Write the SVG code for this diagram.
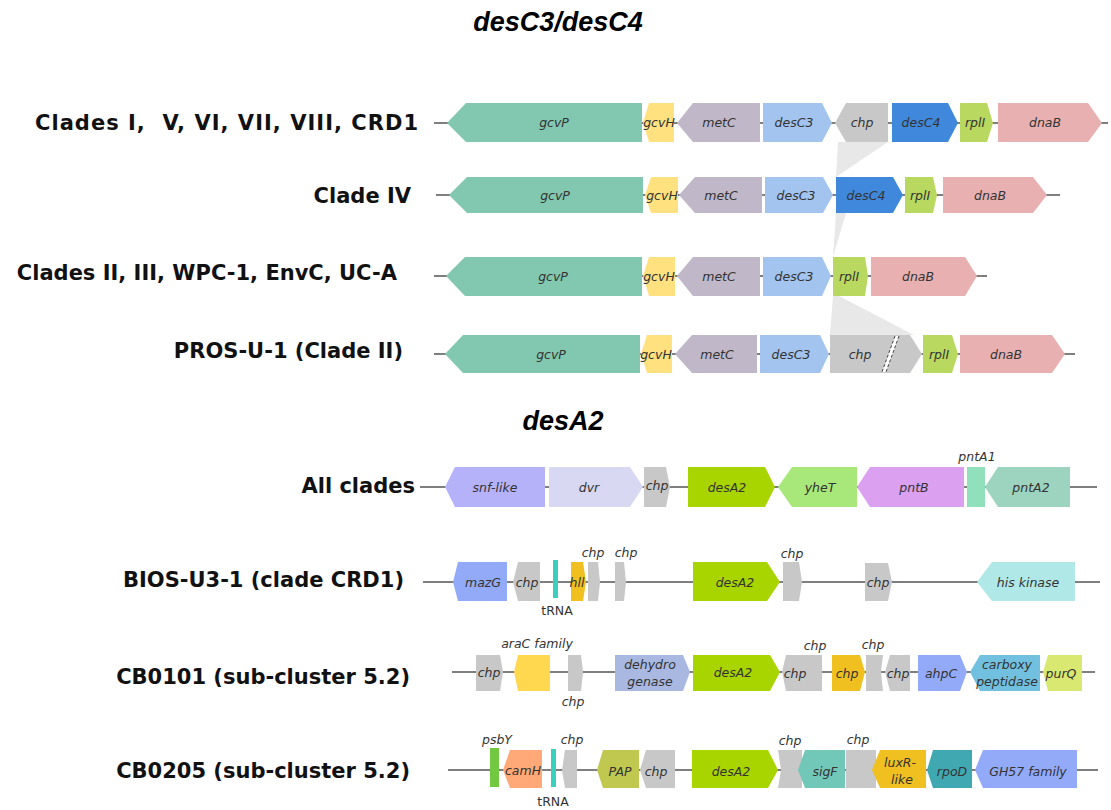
<svg xmlns="http://www.w3.org/2000/svg" width="1111" height="810" viewBox="0 0 1111 810">
<style>
.bg{fill:#fff}
.bb{stroke:#555;stroke-width:1.5;fill:none}
.gl{font-family:"DejaVu Sans",sans-serif;font-style:italic;font-size:12.5px;fill:#333;text-anchor:middle;dominant-baseline:central}
.up{font-style:normal}
.rl{font-family:"DejaVu Sans",sans-serif;font-weight:bold;font-size:21px;fill:#111;text-anchor:end;dominant-baseline:central}
.tt{font-family:"Liberation Sans",Arial,sans-serif;font-weight:bold;font-style:italic;font-size:27px;fill:#000;text-anchor:middle}
.fan{fill:#e8e8e8}
</style>
<rect class="bg" x="0" y="0" width="1111" height="810"/>
<text class="tt" x="558" y="31">desC3/desC4</text>
<text class="tt" x="563" y="430">desA2</text>

<g id="labels">
<text class="rl" x="418" y="123" xml:space="preserve" textLength="383">Clades I,  V, VI, VII, VIII, CRD1</text>
<text class="rl" x="411" y="196">Clade IV</text>
<text class="rl" x="397" y="273">Clades II, III, WPC-1, EnvC, UC-A</text>
<text class="rl" x="403" y="351">PROS-U-1 (Clade II)</text>
<text class="rl" x="415" y="486">All clades</text>
<text class="rl" x="404" y="580">BIOS-U3-1 (clade CRD1)</text>
<text class="rl" x="410" y="677">CB0101 (sub-cluster 5.2)</text>
<text class="rl" x="410" y="771">CB0205 (sub-cluster 5.2)</text>
</g>

<g id="connectors">
<polygon class="fan" points="838,142 888,142 836,177"/>
<polygon class="fan" points="836,213 846,213 833,257"/>
<polygon class="fan" points="833,296 839,296 914,335 830,335"/>
<line class="bb" x1="434" y1="123" x2="1108" y2="123"/>
<line class="bb" x1="436" y1="195" x2="1060" y2="195"/>
<line class="bb" x1="434" y1="276" x2="987" y2="276"/>
<line class="bb" x1="434" y1="354" x2="1075" y2="354"/>
<line class="bb" x1="420" y1="487" x2="1097" y2="487"/>
<line class="bb" x1="423" y1="582" x2="1100" y2="582"/>
<line class="bb" x1="452" y1="672" x2="1095" y2="672"/>
<line class="bb" x1="448" y1="770" x2="1098" y2="770"/>
</g>

<!-- Row 1 -->
<g id="r1-gcvP"><polygon fill="#82c8b0" points="447,123 466,103 642,103 642,142 466,142"/><text class="gl" x="554" y="122">gcvP</text></g>
<g id="r1-gcvH"><polygon fill="#ffe180" points="649,103 674,103 674,142 649,142 643,123"/><text class="gl" x="659" y="122">gcvH</text></g>
<g id="r1-metC"><polygon fill="#c0b8c8" points="677,123 693,103 760,103 760,142 693,142"/><text class="gl" x="719" y="122">metC</text></g>
<g id="r1-desC3"><polygon fill="#a2c4ee" points="763,103 822,103 832,123 822,142 763,142"/><text class="gl" x="794" y="122">desC3</text></g>
<g id="r1-chp"><polygon fill="#c8c8c8" points="835,123 846,103 888,103 888,142 846,142"/><text class="gl" x="862" y="122">chp</text></g>
<g id="r1-desC4"><polygon fill="#4088dc" points="892,103 948,103 958,123 948,142 892,142"/><text class="gl" x="921" y="122">desC4</text></g>
<g id="r1-rplI"><polygon fill="#b8d860" points="960,103 987,103 993,123 987,142 960,142"/><text class="gl" x="975" y="122">rplI</text></g>
<g id="r1-dnaB"><polygon fill="#e8b0b0" points="998,103 1088,103 1102,123 1088,142 998,142"/><text class="gl" x="1045" y="122">dnaB</text></g>

<!-- Row 2 -->
<g id="r2-gcvP"><polygon fill="#82c8b0" points="449,195 467,177 643,177 643,213 467,213"/><text class="gl" x="555" y="195">gcvP</text></g>
<g id="r2-gcvH"><polygon fill="#ffe180" points="651,177 678,177 678,213 651,213 645,195"/><text class="gl" x="662" y="195">gcvH</text></g>
<g id="r2-metC"><polygon fill="#c0b8c8" points="679,195 695,177 762,177 762,213 695,213"/><text class="gl" x="721" y="195">metC</text></g>
<g id="r2-desC3"><polygon fill="#a2c4ee" points="765,177 823,177 833,195 823,213 765,213"/><text class="gl" x="796" y="195">desC3</text></g>
<g id="r2-desC4"><polygon fill="#4088dc" points="836,177 893,177 903,195 893,213 836,213"/><text class="gl" x="866" y="195">desC4</text></g>
<g id="r2-rplI"><polygon fill="#b8d860" points="905,177 933,177 937,195 933,213 905,213"/><text class="gl" x="920" y="195">rplI</text></g>
<g id="r2-dnaB"><polygon fill="#e8b0b0" points="943,177 1033,177 1047,195 1033,213 943,213"/><text class="gl" x="990" y="195">dnaB</text></g>

<!-- Row 3 -->
<g id="r3-gcvP"><polygon fill="#82c8b0" points="446,276 465,257 642,257 642,296 465,296"/><text class="gl" x="553" y="276">gcvP</text></g>
<g id="r3-gcvH"><polygon fill="#ffe180" points="649,257 675,257 675,296 649,296 643,276"/><text class="gl" x="659" y="276">gcvH</text></g>
<g id="r3-metC"><polygon fill="#c0b8c8" points="677,276 693,257 760,257 760,296 693,296"/><text class="gl" x="719" y="276">metC</text></g>
<g id="r3-desC3"><polygon fill="#a2c4ee" points="763,257 822,257 831,276 822,296 763,296"/><text class="gl" x="794" y="276">desC3</text></g>
<g id="r3-rplI"><polygon fill="#b8d860" points="833,257 865,257 868,276 865,296 833,296"/><text class="gl" x="849" y="276">rplI</text></g>
<g id="r3-dnaB"><polygon fill="#e8b0b0" points="871,257 965,257 977,276 965,296 871,296"/><text class="gl" x="918" y="276">dnaB</text></g>

<!-- Row 4 -->
<g id="r4-gcvP"><polygon fill="#82c8b0" points="445,354 463,335 640,335 640,373 463,373"/><text class="gl" x="551" y="354">gcvP</text></g>
<g id="r4-gcvH"><polygon fill="#ffe180" points="647,335 672,335 672,373 647,373 641,354"/><text class="gl" x="656" y="354">gcvH</text></g>
<g id="r4-metC"><polygon fill="#c0b8c8" points="675,354 692,335 757,335 757,373 692,373"/><text class="gl" x="717" y="354">metC</text></g>
<g id="r4-desC3"><polygon fill="#a2c4ee" points="760,335 820,335 829,354 820,373 760,373"/><text class="gl" x="791" y="354">desC3</text></g>
<g id="r4-chp"><polygon fill="#c8c8c8" points="830,335 910,335 922,354 910,373 830,373"/><text class="gl" x="860" y="354">chp</text>
<polygon fill="#fff" points="895,336 899,336 886,372 882,372"/>
<line x1="895" y1="336" x2="882" y2="372" stroke="#444" stroke-width="1" stroke-dasharray="3,2"/>
<line x1="899" y1="336" x2="886" y2="372" stroke="#444" stroke-width="1" stroke-dasharray="3,2"/></g>
<g id="r4-rplI"><polygon fill="#b8d860" points="923,335 952,335 958,354 952,373 923,373"/><text class="gl" x="939" y="354">rplI</text></g>
<g id="r4-dnaB"><polygon fill="#e8b0b0" points="960,335 1052,335 1065,354 1052,373 960,373"/><text class="gl" x="1006" y="354">dnaB</text></g>

<!-- All clades -->
<g id="a-snf"><polygon fill="#b6b2fa" points="445,487 455,467 545,467 545,507 455,507"/><text class="gl" x="495" y="487">snf-like</text></g>
<g id="a-dvr"><polygon fill="#d8d8f2" points="549,467 630,467 643,487 630,507 549,507"/><text class="gl" x="589" y="487">dvr</text></g>
<g id="a-chp"><polygon fill="#c8c8c8" points="644,467 666,467 670,487 666,507 644,507"/><text class="gl" x="657" y="485">chp</text></g>
<g id="a-desA2"><polygon fill="#a8d400" points="688,467 765,467 775,487 765,507 688,507"/><text class="gl" x="727" y="487">desA2</text></g>
<g id="a-yheT"><polygon fill="#a8e87a" points="778,487 792,467 857,467 857,507 792,507"/><text class="gl" x="820" y="487">yheT</text></g>
<g id="a-pntB"><polygon fill="#dca0f0" points="857,487 870,467 964,467 964,507 870,507"/><text class="gl" x="914" y="487">pntB</text></g>
<g id="a-pntA1"><rect fill="#90e0bc" x="967" y="467" width="18" height="40"/><text class="gl" x="977" y="456">pntA1</text></g>
<g id="a-pntA2"><polygon fill="#9cd4c0" points="985,487 998,467 1070,467 1070,507 998,507"/><text class="gl" x="1031" y="487">pntA2</text></g>

<!-- BIOS-U3-1 -->
<g id="b-mazG"><polygon fill="#92aaf8" points="453,582 458,562 507,562 507,601 458,601"/><text class="gl" x="483" y="582">mazG</text></g>
<g id="b-chp1"><polygon fill="#c8c8c8" points="513,582 518,562 540,562 540,601 518,601"/><text class="gl" x="527" y="582">chp</text></g>
<g id="b-tRNA"><rect fill="#3ccfbe" x="553" y="560" width="5" height="38"/><text class="gl up" x="557" y="610">tRNA</text></g>
<g id="b-hll"><polygon fill="#f0c020" points="571,562 583,562 586,582 583,601 571,601"/><text class="gl" x="577" y="582">hll</text></g>
<g id="b-chp2"><polygon fill="#c8c8c8" points="588,562 598,562 600,582 598,601 588,601"/><text class="gl" x="593" y="552">chp</text></g>
<g id="b-chp3"><polygon fill="#c8c8c8" points="615,562 624,562 626,582 624,601 615,601"/><text class="gl" x="626" y="552">chp</text></g>
<g id="b-desA2"><polygon fill="#a8d400" points="693,562 767,562 780,582 767,601 693,601"/><text class="gl" x="735" y="582">desA2</text></g>
<g id="b-chp4"><polygon fill="#c8c8c8" points="783,562 799,562 802,582 799,601 783,601"/><text class="gl" x="792" y="553">chp</text></g>
<g id="b-chp5"><polygon fill="#c8c8c8" points="865,563 888,563 892,582 888,601 865,601"/><text class="gl" x="878" y="582">chp</text></g>
<g id="b-his"><polygon fill="#b0e8e8" points="977,582 992,562 1075,562 1075,601 992,601"/><text class="gl" x="1028" y="582">his kinase</text></g>

<!-- CB0101 -->
<g id="c-chp1"><polygon fill="#c8c8c8" points="476,655 500,655 503,672 500,691 476,691"/><text class="gl" x="489" y="672">chp</text></g>
<g id="c-araC"><polygon fill="#ffd850" points="514,672 518,655 550,655 550,691 518,691"/><text class="gl" x="537" y="643">araC family</text></g>
<g id="c-chp2"><polygon fill="#c8c8c8" points="568,655 581,655 583,672 581,691 568,691"/><text class="gl" x="573" y="701">chp</text></g>
<g id="c-dehyd"><polygon fill="#a8b8e0" points="615,655 683,655 690,672 683,691 615,691"/><text class="gl" x="650" y="664">dehydro</text><text class="gl" x="650" y="681">genase</text></g>
<g id="c-desA2"><polygon fill="#a8d400" points="693,655 770,655 780,672 770,691 693,691"/><text class="gl" x="733" y="672">desA2</text></g>
<g id="c-chp3"><polygon fill="#c8c8c8" points="782,672 786,655 810,655 810,691 786,691"/><text class="gl" x="795" y="673">chp</text></g>
<g id="c-chp4"><rect fill="#c8c8c8" x="810" y="655" width="12" height="36"/><text class="gl" x="815" y="645">chp</text></g>
<g id="c-chp5"><polygon fill="#f0c020" points="832,655 860,655 865,672 860,691 832,691"/><text class="gl" x="847" y="673">chp</text></g>
<g id="c-chp6"><polygon fill="#c8c8c8" points="866,655 883,655 881,672 883,691 866,691"/><text class="gl" x="873" y="644">chp</text></g>
<g id="c-chp7"><polygon fill="#c8c8c8" points="885,672 890,655 910,655 910,691 890,691"/><text class="gl" x="898" y="673">chp</text></g>
<g id="c-ahpC"><polygon fill="#92aaf8" points="918,655 960,655 967,672 960,691 918,691"/><text class="gl" x="941" y="673">ahpC</text></g>
<g id="c-carb"><polygon fill="#72c0e0" points="970,672 980,655 1040,655 1040,691 980,691"/><text class="gl" x="1007" y="664">carboxy</text><text class="gl" x="1007" y="681">peptidase</text></g>
<g id="c-purQ"><polygon fill="#d8e870" points="1043,672 1048,655 1082,655 1082,691 1048,691"/><text class="gl" x="1061" y="673">purQ</text></g>

<!-- CB0205 -->
<g id="d-psbY"><rect fill="#72c840" x="490" y="748" width="9" height="39"/><text class="gl" x="497" y="739">psbY</text></g>
<g id="d-camH"><polygon fill="#ffa878" points="503,770 510,750 542,750 542,788 510,788"/><text class="gl" x="523" y="770">camH</text></g>
<g id="d-tRNA"><rect fill="#3ccfbe" x="551" y="749" width="5" height="38"/><text class="gl up" x="553" y="801">tRNA</text></g>
<g id="d-chp1"><polygon fill="#c8c8c8" points="562,770 565,750 577,750 577,788 565,788"/><text class="gl" x="572" y="739">chp</text></g>
<g id="d-PAP"><polygon fill="#c0c850" points="597,770 603,750 639,750 639,788 603,788"/><text class="gl" x="620" y="771">PAP</text></g>
<g id="d-chp2"><polygon fill="#c8c8c8" points="640,770 646,750 675,750 675,788 646,788"/><text class="gl" x="656" y="771">chp</text></g>
<g id="d-desA2"><polygon fill="#a8d400" points="692,750 768,750 778,770 768,788 692,788"/><text class="gl" x="731" y="771">desA2</text></g>
<g id="d-chp3"><polygon fill="#c8c8c8" points="778,750 802,750 802,788 778,788 781,770"/><text class="gl" x="790" y="740">chp</text></g>
<g id="d-sigF"><polygon fill="#72c8b8" points="798,770 805,750 845,750 845,788 805,788"/><text class="gl" x="825" y="771">sigF</text></g>
<g id="d-chp4"><rect fill="#c8c8c8" x="846" y="750" width="30" height="38"/><text class="gl" x="858" y="739">chp</text></g>
<g id="d-luxR"><polygon fill="#f0c020" points="872,770 880,750 926,750 926,788 880,788"/><text class="gl" x="900" y="762">luxR-</text><text class="gl" x="902" y="779">like</text></g>
<g id="d-rpoD"><polygon fill="#40a8b0" points="927,770 933,750 972,750 972,788 933,788"/><text class="gl" x="952" y="771">rpoD</text></g>
<g id="d-GH57"><polygon fill="#92aaf8" points="975,770 983,750 1077,750 1077,788 983,788"/><text class="gl" x="1028" y="771">GH57 family</text></g>
</svg>
